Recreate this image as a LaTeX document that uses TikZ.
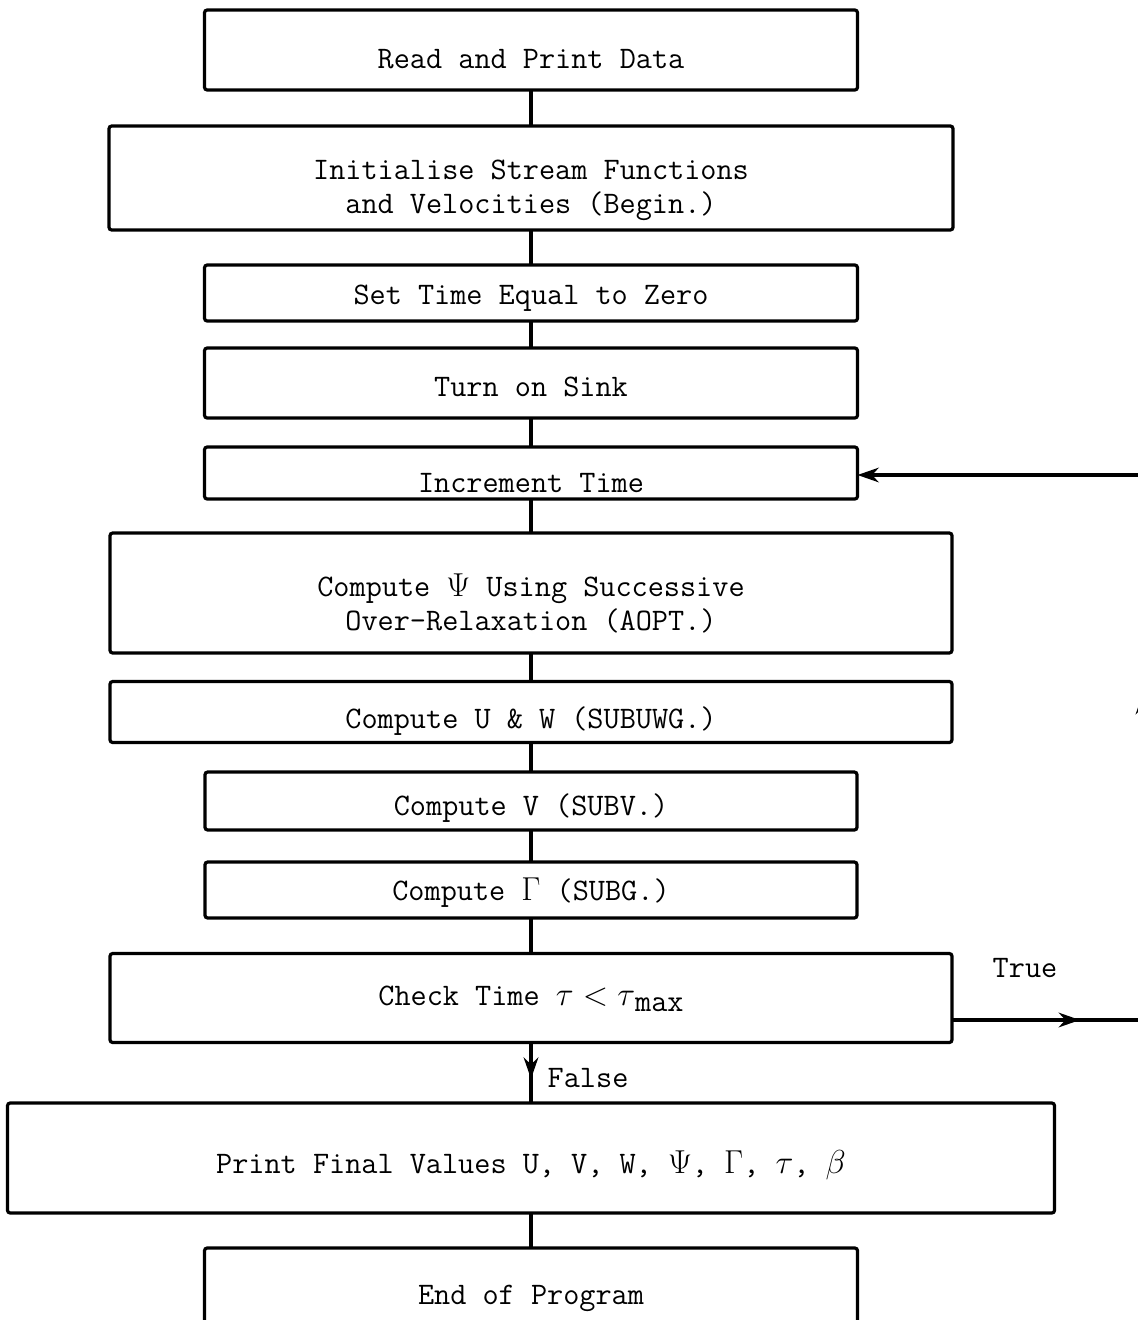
\documentclass[tikz,border=0pt]{standalone}
\usepackage{tikz}
\usetikzlibrary{arrows.meta,decorations.markings}
\def\pxu{0.75pt}
\def\tyfont{\fontsize{23.5}{25.5}\selectfont\ttfamily}
\newcommand{\tmax}{$\tau$\raisebox{-0.45ex}{max}}

\begin{document}
\begin{tikzpicture}[x=\pxu,y=-\pxu,
  blk/.style={draw,line width=2.4pt,rounded corners=2pt,inner sep=0pt,outer sep=0pt,
    align=center,font=\tyfont,text depth=0pt},
  conn/.style={line width=2.4pt},
  tip/.style={-{Stealth[length=16pt,width=11pt]}},
  midarrow/.style={postaction={decorate},decoration={markings,
    mark=at position #1 with {\arrow{Stealth[length=16pt,width=11pt]}}}}]
\useasboundingbox (0,0) rectangle (1138,1320);
\clip (0,0) rectangle (1138,1320);
% the program steps
\node[blk,minimum width=653*\pxu,minimum height=80*\pxu,text height=28.5pt] (read) at (531,50) {Read and Print Data};
\node[blk,minimum width=844*\pxu,minimum height=104*\pxu,text height=52.5pt] (init) at (531,178) {Initialise Stream Functions\\and Velocities (Begin.)};
\node[blk,minimum width=653*\pxu,minimum height=56*\pxu,text height=16.5pt] (zero) at (531,293) {Set Time Equal to Zero};
\node[blk,minimum width=653*\pxu,minimum height=70*\pxu,text height=19.5pt] (sink) at (531,383) {Turn on Sink};
\node[blk,minimum width=653*\pxu,minimum height=52*\pxu,text height=28.5pt] (inc) at (531,473) {Increment Time};
\node[blk,minimum width=842*\pxu,minimum height=120*\pxu,text height=55.5pt] (psi) at (531,593) {Compute $\Psi$ Using Successive\\Over-Relaxation (AOPT.)};
\node[blk,minimum width=842*\pxu,minimum height=61*\pxu,text height=24pt] (uw) at (531,712) {Compute U \& W (SUBUWG.)};
\node[blk,minimum width=652*\pxu,minimum height=58*\pxu,text height=21pt] (subv) at (531,801) {Compute V (SUBV.)};
\node[blk,minimum width=652*\pxu,minimum height=56*\pxu,text height=15pt] (gam) at (531,890) {Compute $\Gamma$ (SUBG.)};
\node[blk,minimum width=842*\pxu,minimum height=89*\pxu,text height=10.5pt] (chk) at (531,998) {Check Time $\tau<{}$\tmax};
\node[blk,minimum width=1047*\pxu,minimum height=110*\pxu,text height=22.5pt] (fin) at (531,1158) {Print Final Values U, V, W, $\Psi$, $\Gamma$, $\tau$, $\beta$};
\node[blk,minimum width=653*\pxu,minimum height=92*\pxu,text height=15pt] (endp) at (531,1294) {End of Program};
% straight down
\draw[conn] (read) -- (init);
\draw[conn] (init) -- (zero);
\draw[conn] (zero) -- (sink);
\draw[conn] (sink) -- (inc);
\draw[conn] (inc) -- (psi);
\draw[conn] (psi) -- (uw);
\draw[conn] (uw) -- (subv);
\draw[conn] (subv) -- (gam);
\draw[conn] (gam) -- (chk);
\draw[conn,midarrow=0.6] (chk) -- (fin);
\draw[conn] (fin) -- (endp);
\node[font=\tyfont,anchor=west] (false) at (543,1078) {False};
% loop back
\coordinate (loopbot) at (1143,1020);
\coordinate (looptop) at (1143,475);
\draw[conn,midarrow=0.67] (chk.east |- loopbot) -- (loopbot);
\draw[conn,midarrow=0.6] (loopbot) -- (looptop);
\draw[conn,tip] (looptop) -- (inc.east |- looptop);
\node[font=\tyfont] (true) at (1025,968) {True};
\end{tikzpicture}
\end{document}
